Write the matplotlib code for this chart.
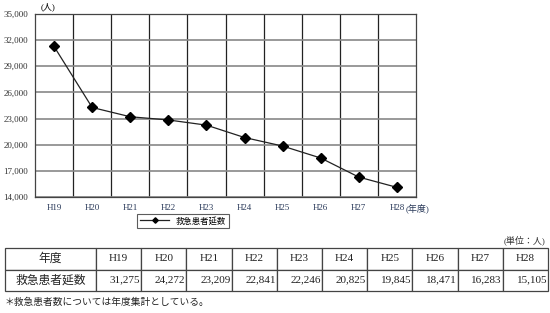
import matplotlib
matplotlib.use("Agg")
import matplotlib.pyplot as plt
from matplotlib.ticker import FuncFormatter

plt.rcParams["font.family"] = ["Liberation Serif", "Noto Sans CJK JP"]

years = ["H19", "H20", "H21", "H22", "H23", "H24", "H25", "H26", "H27", "H28"]
patients = [31275, 24272, 23209, 22841, 22246, 20825, 19845, 18471, 16283, 15105]
y_ticks = [14000, 17000, 20000, 23000, 26000, 29000, 32000, 35000]
series_name = "救急患者延数"
row_header = "年度"

W, H = 550, 313
fig = plt.figure(figsize=(W / 100, H / 100), dpi=100)


def box(x0, y0, x1, y1):
    # Pixel (oben-links) -> Figure-Anteil
    return [x0 / W, 1 - y1 / H, (x1 - x0) / W, (y1 - y0) / H]


# --- Linienchart ---
ax = fig.add_axes(box(35, 14, 416, 197))
x = list(range(len(years)))
ax.plot(x, patients, color="#222222", lw=0.9, marker="D", ms=5.5,
        mfc="black", mec="black", label=series_name)
ax.set_xlim(-0.5, len(years) - 0.5)
ax.set_ylim(y_ticks[0], y_ticks[-1])
ax.set_yticks(y_ticks)
ax.yaxis.set_major_formatter(FuncFormatter(lambda v, p: f"{int(v):,}"))
ax.set_xticks(x)
ax.set_xticklabels(years)
ax.set_xticks([i + 0.5 for i in x[:-1]], minor=True)
ax.tick_params(axis="both", length=0, labelsize=6.5, colors="#333333", pad=5)
ax.tick_params(axis="x", which="minor", length=0)
for lab in ax.get_xticklabels():
    lab.set_color("#2a3a5a")
ax.annotate("(年度)", xy=(len(years) - 1 + 0.22, 0), xycoords=ax.get_xaxis_transform(),
            xytext=(0, -4.3), textcoords="offset points",
            fontsize=6.5, color="#2a3a5a", ha="left", va="top")
ax.grid(axis="y", which="major", color="#888888", lw=1.2)
ax.grid(axis="x", which="minor", color="#222222", lw=0.9)
ax.set_axisbelow(True)
for s in ax.spines.values():
    s.set_color("#444444")
    s.set_linewidth(0.9)
fig.text(48 / W, 1 - 7 / H, "(人)", fontsize=6.5, ha="center", va="center")

leg = ax.legend(loc="center", bbox_to_anchor=(183 / W, 1 - 221 / H),
                bbox_transform=fig.transFigure, fontsize=6, frameon=True,
                fancybox=False, edgecolor="#333333", markerscale=0.5,
                handlelength=3.4, borderpad=0.35)
leg.get_frame().set_linewidth(0.8)

# --- Tabelle ---
fig.text(546 / W, 1 - 240 / H, "(単位：人)", fontsize=6.5, ha="right", va="center",
         color="#333333")
tax = fig.add_axes(box(5, 248, 548, 291))
tax.axis("off")
col_w = [91 / 543] + [452 / 543 / len(years)] * len(years)
cells = [[row_header] + years,
         [series_name] + [f"{v:,}" for v in patients]]
tbl = tax.table(cellText=cells, colWidths=col_w, bbox=[0, 0, 1, 1],
                cellLoc="center", edges="closed")
tbl.auto_set_font_size(False)
for (r, c), cell in tbl.get_celld().items():
    cell.set_edgecolor("#444444")
    cell.set_linewidth(0.9)
    cell.get_text().set_fontsize(8.5 if c == 0 else 8)
    cell.get_text().set_color("#222222")
    if r == 1 and c > 0:
        cell.get_text().set_ha("right")
        cell._loc = "right"
        cell.PAD = 0.02

fig.text(5 / W, 1 - 302 / H, "＊救急患者数については年度集計としている。", fontsize=7,
         ha="left", va="center", color="#222222")

fig.savefig("out.png", dpi=100)
